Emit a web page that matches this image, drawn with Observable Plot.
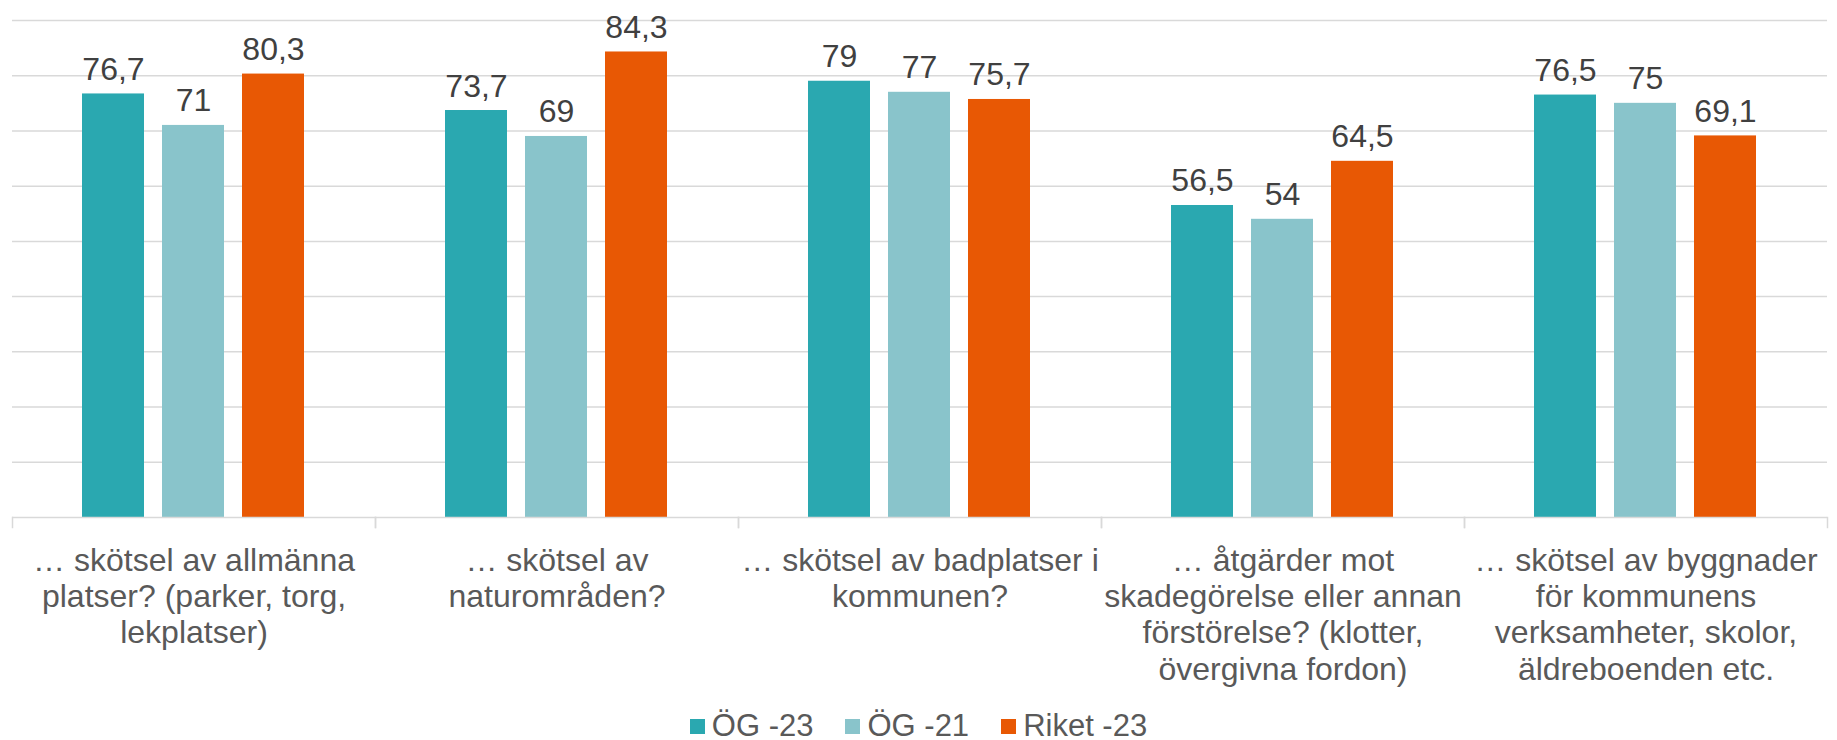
<!DOCTYPE html>
<html><head><meta charset="utf-8">
<script src="https://cdn.jsdelivr.net/npm/d3@7"></script>
<script src="https://cdn.jsdelivr.net/npm/@observablehq/plot@0.6"></script>
<style>
body{margin:0;background:#fff;font-family:"Liberation Sans",Arial,sans-serif;overflow:hidden}
#chart svg{display:block}
.legend{display:flex;justify-content:center;align-items:center;height:28px;margin-top:6px;font-size:31px;color:#595959;line-height:28px;}
.item{display:flex;align-items:center;margin:0 16px}
.sw{width:15px;height:15px;margin-right:7px}
</style></head><body>
<div id="chart"></div><div class="legend" id="legend"></div>
<script>
const categories = [
  "… skötsel av allmänna\nplatser? (parker, torg,\nlekplatser)",
  "… skötsel av\nnaturområden?",
  "… skötsel av badplatser i\nkommunen?",
  "… åtgärder mot\nskadegörelse eller annan\nförstörelse? (klotter,\növergivna fordon)",
  "… skötsel av byggnader\nför kommunens\nverksamheter, skolor,\näldreboenden etc."
];
const series = ["ÖG -23", "ÖG -21", "Riket -23"];
const og23 = [76.7, 73.7, 79, 56.5, 76.5];
const og21 = [71, 69, 77, 54, 75];
const riket23 = [80.3, 84.3, 75.7, 64.5, 69.1];
const colors = ["#2aa8b0", "#89c4cb", "#e85804"];
const yTicks = [10, 20, 30, 40, 50, 60, 70, 80, 90];

const seriesValues = [og23, og21, riket23];
const data = categories.flatMap((c, i) => series.map((s, j) => ({category: c, series: s, value: seriesValues[j][i]})));
const fmt = d => String(d).replace(".", ",");

const H = 706, MT = 20, MB = 189;
const plot = Plot.plot({
  width: 1837, height: H,
  marginTop: MT, marginBottom: MB, marginLeft: 10, marginRight: 9,
  style: {fontFamily: "'Liberation Sans', Arial, sans-serif", background: "#fff"},
  fx: {domain: categories, padding: 0, label: null},
  x: {domain: series, paddingInner: 0.222, paddingOuter: 0.856, axis: null},
  y: {domain: [0, 90], axis: null},
  color: {domain: series, range: colors},
  marks: [
    Plot.ruleY(yTicks, {stroke: "#d9d9d9", strokeWidth: 1.5}),
    Plot.barY(data, {fx: "category", x: "series", y: "value", fill: "series"}),
    Plot.ruleY([0], {stroke: "#d9d9d9", strokeWidth: 1.5}),
    Plot.frame({anchor: "left", stroke: "#d9d9d9", strokeWidth: 1.5, insetTop: H - MT - MB, insetBottom: -10}),
    Plot.frame({anchor: "right", stroke: "#d9d9d9", strokeWidth: 1.5, insetTop: H - MT - MB, insetBottom: -10}),
    Plot.text(data, {fx: "category", x: "series", y: "value", text: d => fmt(d.value), lineAnchor: "bottom", dy: -14, fontSize: 32, fill: "#404040"}),
    Plot.axisFx({anchor: "bottom", tickSize: 0, tickPadding: 28, fontSize: 32, lineHeight: 1.13, fill: "#595959", label: null, lineAnchor: "top"})
  ]
});
document.getElementById("chart").appendChild(plot);

const leg = document.getElementById("legend");
series.forEach((s, i) => {
  const it = document.createElement("div"); it.className = "item";
  const sw = document.createElement("div"); sw.className = "sw"; sw.style.background = colors[i];
  const t = document.createElement("span"); t.textContent = s;
  it.appendChild(sw); it.appendChild(t); leg.appendChild(it);
});
</script></body></html>
